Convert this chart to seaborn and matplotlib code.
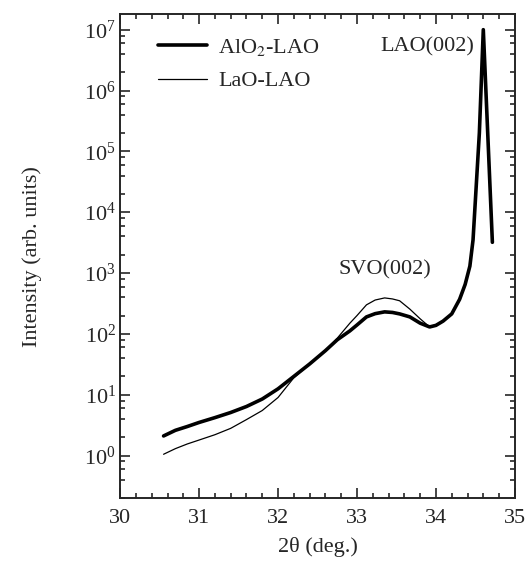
import numpy as np
import pandas as pd
import matplotlib
matplotlib.use("Agg")
import matplotlib.pyplot as plt
import matplotlib.ticker as mticker
import seaborn as sns

# values
two_theta_alo = [30.55, 30.7, 30.85, 31.0, 31.2, 31.4, 31.6, 31.8, 32.0, 32.2,
                 32.4, 32.6, 32.75, 32.91, 33.0, 33.12, 33.23, 33.35, 33.45,
                 33.54, 33.67, 33.8, 33.92, 34.0, 34.09, 34.2, 34.3, 34.37,
                 34.43, 34.47, 34.55, 34.6, 34.715]
intensity_alo = [2.1, 2.6, 3.0, 3.5, 4.2, 5.1, 6.4, 8.5, 12.5, 20,
                 32, 53, 80, 112, 140, 190, 215, 230, 225,
                 213, 190, 150, 130, 138, 162, 213, 370, 650,
                 1300, 3500, 2e5, 1e7, 3200]

two_theta_lao = [30.55, 30.7, 30.85, 31.0, 31.2, 31.4, 31.6, 31.8, 32.0, 32.2,
                 32.4, 32.6, 32.75, 32.91, 33.0, 33.12, 33.23, 33.35, 33.45,
                 33.54, 33.67, 33.8, 33.92, 34.0, 34.09, 34.2, 34.3, 34.37,
                 34.43, 34.47, 34.55, 34.6, 34.715]
intensity_lao = [1.05, 1.3, 1.55, 1.8, 2.2, 2.8, 3.9, 5.5, 9.0, 19,
                 32, 53, 85, 150, 200, 300, 360, 390, 375,
                 350, 255, 177, 130, 138, 162, 213, 370, 650,
                 1300, 3500, 2e5, 1e7, 3200]

y_ticks = [1e0, 1e1, 1e2, 1e3, 1e4, 1e5, 1e6, 1e7]

sns.set_style("ticks")
plt.rcParams["font.family"] = ["Liberation Serif", "DejaVu Serif"]
plt.rcParams["mathtext.fontset"] = "stix"

fig = plt.figure(figsize=(5.27, 5.66), dpi=100)
ax = fig.add_axes([0.228, 0.12, 0.749, 0.855])

sns.lineplot(x=two_theta_alo, y=intensity_alo, ax=ax, color="black",
             linewidth=2.6, label="AlO$_2$-LAO", sort=False)
sns.lineplot(x=two_theta_lao, y=intensity_lao, ax=ax, color="black",
             linewidth=0.9, label="LaO-LAO", sort=False)

ax.set_yscale("log")
ax.set_xlim(30, 35)
ax.set_ylim(0.2, 1.8e7)

ax.set_xticks([30, 31, 32, 33, 34, 35])
ax.xaxis.set_minor_locator(mticker.MultipleLocator(0.2))
ax.yaxis.set_major_locator(mticker.FixedLocator(y_ticks))
ax.yaxis.set_major_formatter(mticker.LogFormatterSciNotation())
ax.yaxis.set_minor_locator(mticker.LogLocator(base=10, subs=(2, 4, 6, 8), numticks=20))
ax.yaxis.set_minor_formatter(mticker.NullFormatter())

ax.tick_params(which="both", direction="in", top=True, right=True, width=1.2,
               labelsize=16)
ax.tick_params(which="major", length=7)
ax.tick_params(which="minor", length=3.5)
ax.tick_params(axis="x", which="major", pad=8)
ax.tick_params(axis="y", which="major", pad=3)
for s in ax.spines.values():
    s.set_linewidth(1.4)

ax.set_xlabel("2θ (deg.)", fontsize=16, labelpad=6)
ax.set_ylabel("Intensity (arb. units)", fontsize=16, labelpad=30)

ax.text(34.49, 10 ** 6.72, "LAO(002)", fontsize=16, ha="right", va="center")
ax.text(33.35, 10 ** 3.05, "SVO(002)", fontsize=16, ha="center", va="center")

ax.legend(loc="upper left", bbox_to_anchor=(0.045, 0.995), frameon=False,
          fontsize=16, handlelength=2.2, handletextpad=0.5, labelspacing=0.6)

fig.savefig("out.png", dpi=100)
